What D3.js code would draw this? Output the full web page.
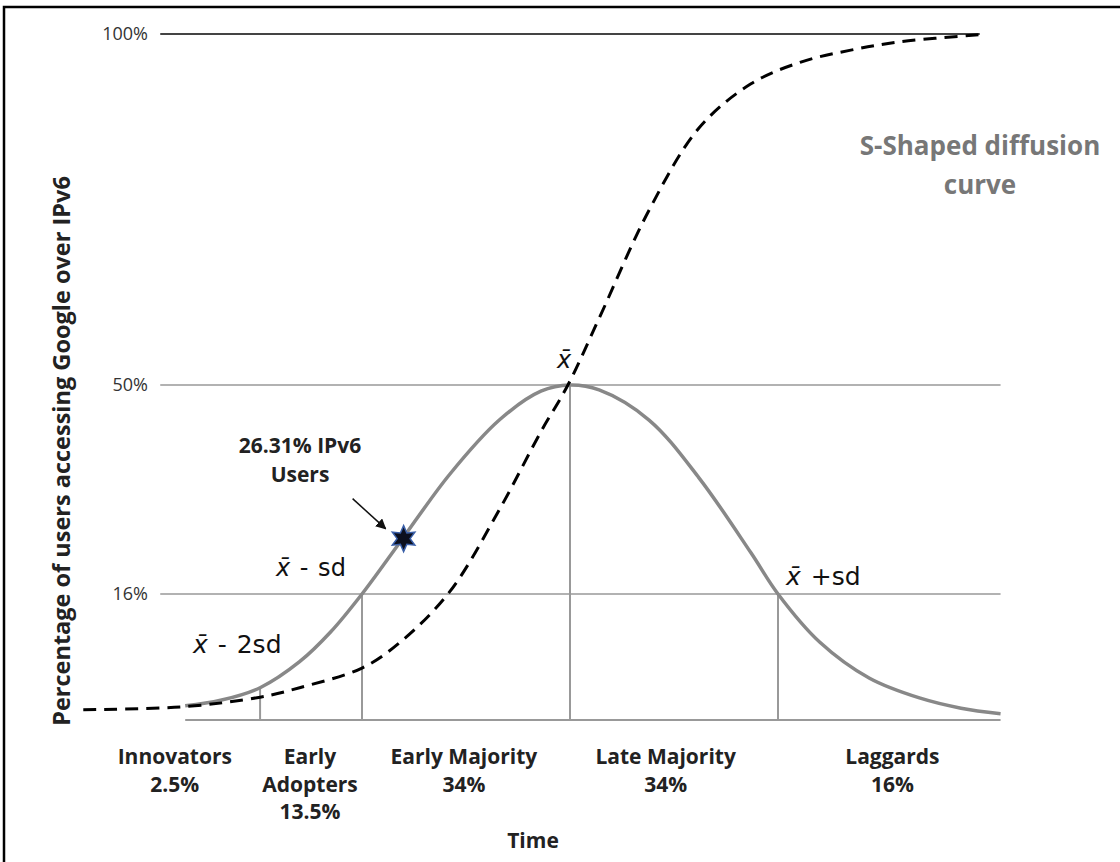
<!DOCTYPE html>
<html>
<head>
<meta charset="utf-8">
<script src="https://cdn.jsdelivr.net/npm/d3@7/dist/d3.min.js"></script>
<style>
  html, body { margin: 0; padding: 0; background: #fff; }
  svg { display: block; font-family: "Open Sans", "Noto Sans", sans-serif; }
</style>
</head>
<body>
<svg id="chart" width="1120" height="862"></svg>
<script>
// ---- data (x in standard-deviation units of time, y in percent of adopters) ----
const bellX = [-1.85, -1.68, -1.49, -1.30, -1.15, -1.00, -0.82, -0.58, -0.34, -0.14, 0.00, 0.14, 0.38, 0.62, 0.87, 1.00, 1.20, 1.44, 1.68, 1.88, 2.07];
const bellY = [1.8, 2.5, 4.1, 7.4, 11.2, 16.0, 24.3, 35.4, 44.3, 49.0, 50.0, 49.2, 44.3, 34.9, 22.7, 16.0, 9.9, 5.3, 2.8, 1.5, 0.8];

const sX = [-2.34, -1.85, -1.49, -1.30, -1.00, -0.82, -0.58, -0.34, -0.14, -0.01, 0.14, 0.38, 0.62, 0.87, 1.11, 1.35, 1.59, 1.97];
const sY = [1.3, 1.7, 2.9, 4.1, 6.6, 9.8, 16.3, 29.7, 42.4, 50.0, 59.5, 74.9, 86.6, 92.9, 96.0, 97.7, 98.9, 99.9];

const refLevels = [100, 50, 16];
const refLabels = ["100%", "50%", "16%"];
const refStart = [-1.97, -1.97, -1.97];
const refEnd = [1.97, 2.07, 2.07];

const boundaries = [-1.49, -1.00, 0.00, 1.00];

const categories = ["Innovators", "Early Adopters", "Early Majority", "Late Majority", "Laggards"];
const categoryLines = [["Innovators", "2.5%"], ["Early", "Adopters", "13.5%"], ["Early Majority", "34%"], ["Late Majority", "34%"], ["Laggards", "16%"]];
const categoryCenters = [-1.90, -1.25, -0.51, 0.46, 1.55];

const currentPoint = { x: -0.80, y: 25.0, label: ["26.31% IPv6", "Users"] };

// ---- scales ----
const x = d3.scaleLinear().domain([-2, 2]).range([154, 986]);
const y = d3.scaleLinear().domain([0, 16, 50, 100]).range([720, 594, 385, 34]);

const svg = d3.select("#chart");

// frame (top and left edges)
svg.append("path").attr("d", "M4,862 L4,7 L1120,7").attr("fill", "none").attr("stroke", "#000").attr("stroke-width", 2.5);

// reference lines
refLevels.forEach((lv, i) => {
  svg.append("line")
    .attr("x1", x(refStart[i])).attr("x2", x(refEnd[i]))
    .attr("y1", y(lv)).attr("y2", y(lv))
    .attr("stroke", i === 0 ? "#444" : "#999")
    .attr("stroke-width", i === 0 ? 2 : 1.5);
  svg.append("text").attr("x", 148).attr("y", y(lv)).attr("dy", "0.36em")
    .attr("text-anchor", "end").attr("font-size", 18).attr("fill", "#333").text(refLabels[i]);
});

// baseline
svg.append("line")
  .attr("x1", x(bellX[0])).attr("x2", x(bellX[bellX.length - 1]))
  .attr("y1", y(0)).attr("y2", y(0))
  .attr("stroke", "#999").attr("stroke-width", 2);

// vertical division lines
boundaries.forEach(b => {
  const idx = bellX.findIndex(v => Math.abs(v - b) < 1e-6);
  svg.append("line")
    .attr("x1", x(b)).attr("x2", x(b))
    .attr("y1", y(0)).attr("y2", y(bellY[idx]))
    .attr("stroke", "#999").attr("stroke-width", 2);
});

// bell curve
const bellData = bellX.map((v, i) => [v, bellY[i]]);
svg.append("path").datum(bellData)
  .attr("fill", "none").attr("stroke", "#888").attr("stroke-width", 3.5)
  .attr("d", d3.line().x(d => x(d[0])).y(d => y(d[1])).curve(d3.curveCatmullRom));

// S-curve
const sData = sX.map((v, i) => [v, sY[i]]);
svg.append("path").datum(sData)
  .attr("fill", "none").attr("stroke", "#000").attr("stroke-width", 3)
  .attr("stroke-dasharray", "13,8")
  .attr("d", d3.line().x(d => x(d[0])).y(d => y(d[1])).curve(d3.curveCatmullRom));

// star marker (six-pointed)
const cx = x(currentPoint.x), cy = y(currentPoint.y);
const starPts = d3.range(12).map(i => [i * Math.PI / 6, i % 2 === 0 ? 13 : 6.5]);
svg.append("path")
  .attr("transform", `translate(${cx},${cy})`)
  .attr("d", d3.lineRadial().curve(d3.curveLinearClosed)(starPts))
  .attr("fill", "#0b0f1e").attr("stroke", "#3a5fa8").attr("stroke-width", 1.5);

// arrow
svg.append("defs").append("marker")
  .attr("id", "arrowhead").attr("viewBox", "0 0 10 10").attr("refX", 9).attr("refY", 5)
  .attr("markerWidth", 7).attr("markerHeight", 7).attr("orient", "auto")
  .append("path").attr("d", "M0,0 L10,5 L0,10 Z").attr("fill", "#111");
svg.append("line")
  .attr("x1", cx - 51).attr("y1", cy - 40)
  .attr("x2", cx - 18).attr("y2", cy - 10)
  .attr("stroke", "#111").attr("stroke-width", 1.5).attr("marker-end", "url(#arrowhead)");

currentPoint.label.forEach((t, i) => {
  svg.append("text").attr("x", 300).attr("y", 453 + i * 29)
    .attr("text-anchor", "middle").attr("font-size", 21).attr("font-weight", "bold").attr("fill", "#222").text(t);
});

// xbar labels
function xbarLabel(px, py, rest, size) {
  const t = svg.append("text").attr("x", px).attr("y", py).attr("font-size", size)
    .attr("font-family", "'DejaVu Sans', sans-serif").attr("fill", "#111").attr("word-spacing", 2);
  t.append("tspan").attr("font-style", "italic").text("x\u0304");
  if (rest) t.append("tspan").text(rest);
}
xbarLabel(557, 368, "", 24);
xbarLabel(276, 576, " - sd", 24);
xbarLabel(193, 653, " - 2sd", 25);
xbarLabel(786, 585, " +sd", 25);

// y-axis title
svg.append("text")
  .attr("transform", `translate(70,${(180 + 722) / 2}) rotate(-90)`)
  .attr("text-anchor", "middle").attr("font-size", 23.5).attr("font-weight", "bold").attr("fill", "#222")
  .text("Percentage of users accessing Google over IPv6");

// S-shaped label
["S-Shaped diffusion", "curve"].forEach((t, i) => {
  svg.append("text").attr("x", 980).attr("y", 155 + i * 39)
    .attr("text-anchor", "middle").attr("font-size", 26).attr("font-weight", "bold").attr("fill", "#777").text(t);
});

// category labels
categoryLines.forEach((lines, i) => {
  lines.forEach((t, j) => {
    svg.append("text").attr("x", x(categoryCenters[i])).attr("y", 764 + j * 27.5)
      .attr("text-anchor", "middle").attr("font-size", 21).attr("font-weight", "bold").attr("fill", "#222").text(t);
  });
});

svg.append("text").attr("x", 533).attr("y", 848)
  .attr("text-anchor", "middle").attr("font-size", 21).attr("font-weight", "bold").attr("fill", "#222").text("Time");
</script>
</body>
</html>
